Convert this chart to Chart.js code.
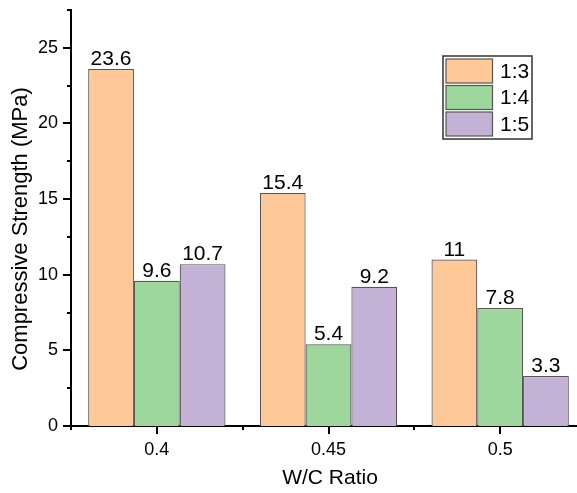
<!DOCTYPE html>
<html>
<head>
<meta charset="utf-8">
<script src="https://cdn.jsdelivr.net/npm/chart.js@4/dist/chart.umd.min.js"></script>
<style>
  html, body { margin: 0; padding: 0; background: #fff; overflow: hidden; }
  #wrap { width: 600px; height: 493px; }
</style>
</head>
<body>
<div id="wrap"><canvas id="c" width="600" height="493"></canvas></div>
<script>
const categories = ['0.4', '0.45', '0.5'];
const seriesNames = ['1:3', '1:4', '1:5'];
const ratio13 = [23.6, 15.4, 11];
const ratio14 = [9.6, 5.4, 7.8];
const ratio15 = [10.7, 9.2, 3.3];
const yTicks = [0, 5, 10, 15, 20, 25];

const colors = ['#FFC896', '#9ED79B', '#C3B2D6'];
const edge = '#555555';
const FONT = '"Liberation Sans", Arial, sans-serif';

const extras = {
  id: 'extras',
  afterDraw(chart) {
    const ctx = chart.ctx;
    const x = chart.scales.x, y = chart.scales.y;
    const ca = chart.chartArea;
    ctx.save();
    ctx.strokeStyle = '#000';
    ctx.lineWidth = 2;
    for (let v = 0; v <= 27.5; v += 2.5) {
      const py = Math.round(y.getPixelForValue(v));
      const major = Math.abs(v / 5 - Math.round(v / 5)) < 1e-9;
      ctx.beginPath();
      ctx.moveTo(ca.left, py);
      ctx.lineTo(ca.left - (major ? 8 : 4), py);
      ctx.stroke();
    }
    const n = categories.length;
    for (let i = 0; i < n; i++) {
      const px = Math.round(x.getPixelForValue(i));
      ctx.beginPath(); ctx.moveTo(px, ca.bottom); ctx.lineTo(px, ca.bottom + 8); ctx.stroke();
    }
    for (let i = 0; i <= n; i++) {
      const px = Math.round(x.getPixelForValue(i - 0.5));
      ctx.beginPath(); ctx.moveTo(px, ca.bottom); ctx.lineTo(px, ca.bottom + 4); ctx.stroke();
    }
    ctx.fillStyle = '#000';
    ctx.font = '21px ' + FONT;
    ctx.textAlign = 'center';
    ctx.textBaseline = 'alphabetic';
    chart.data.datasets.forEach((ds, di) => {
      const meta = chart.getDatasetMeta(di);
      meta.data.forEach((bar, i) => {
        ctx.fillText(String(ds.data[i]), bar.x, bar.y - 4);
      });
    });
    ctx.font = '21px ' + FONT;
    ctx.textBaseline = 'middle';
    ctx.fillText('W/C Ratio', 330, 478);
    ctx.save();
    ctx.translate(21, 229);
    ctx.rotate(-Math.PI / 2);
    ctx.font = '22px ' + FONT;
    ctx.fillText('Compressive Strength (MPa)', 0, 0);
    ctx.restore();
    const lx = 443, ly = 56, lw = 89, lh = 83;
    ctx.fillStyle = '#fff';
    ctx.fillRect(lx, ly, lw, lh);
    ctx.strokeStyle = '#333';
    ctx.lineWidth = 1.5;
    ctx.strokeRect(lx, ly, lw, lh);
    const swY = [59, 85.5, 112];
    seriesNames.forEach((name, i) => {
      ctx.fillStyle = colors[i];
      ctx.fillRect(446, swY[i], 46.5, 24);
      ctx.strokeStyle = edge;
      ctx.lineWidth = 1.2;
      ctx.strokeRect(446, swY[i], 46.5, 24);
      ctx.fillStyle = '#000';
      ctx.font = '21px ' + FONT;
      ctx.textAlign = 'left';
      ctx.textBaseline = 'middle';
      ctx.fillText(name, 500, swY[i] + 13);
    });
    ctx.restore();
  }
};

const mk = (label, data, i) => ({
  label, data,
  backgroundColor: colors[i],
  borderColor: edge,
  borderWidth: 1.2,
  categoryPercentage: 0.8,
  barPercentage: 1.0
});

new Chart(document.getElementById('c'), {
  type: 'bar',
  data: {
    labels: categories,
    datasets: [
      mk(seriesNames[0], ratio13, 0),
      mk(seriesNames[1], ratio14, 1),
      mk(seriesNames[2], ratio15, 2)
    ]
  },
  options: {
    responsive: false,
    animation: false,
    devicePixelRatio: 1,
    layout: { padding: { left: 0, top: 10, right: 14, bottom: 0 } },
    plugins: { legend: { display: false }, tooltip: { enabled: false } },
    scales: {
      x: {
        grid: { display: false, drawTicks: false, tickLength: 0 },
        border: { display: true, color: '#000', width: 2 },
        ticks: { color: '#000', font: { size: 18, family: FONT }, padding: 13 },
        afterFit: s => { s.height = 67; s.paddingLeft = 0; s.paddingRight = 0; }
      },
      y: {
        min: 0, max: 27.5,
        grid: { display: false, drawTicks: false, tickLength: 0 },
        border: { display: true, color: '#000', width: 2 },
        afterBuildTicks: s => { s.ticks = yTicks.map(v => ({ value: v })); },
        ticks: { color: '#000', font: { size: 18, family: FONT }, padding: 13 },
        afterFit: s => { s.width = 71; s.paddingTop = 0; s.paddingBottom = 0; }
      }
    }
  },
  plugins: [extras]
});
</script>
</body>
</html>
